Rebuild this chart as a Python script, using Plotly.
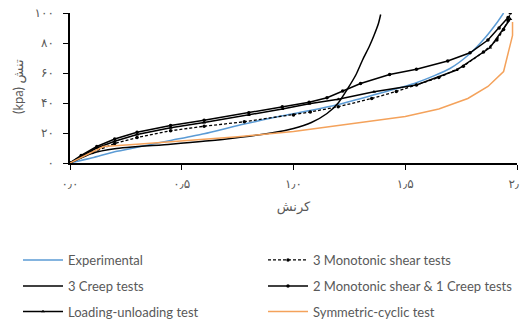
import plotly.graph_objects as go

# ---- data (strain, stress kPa) ----
exp_x = [0, 0.1, 0.2, 0.3, 0.45, 0.6, 0.78, 0.95, 1.075, 1.2, 1.35, 1.55, 1.7, 1.79, 1.86, 1.91, 1.94]
exp_y = [0, 3.5, 7.5, 10.5, 15, 19.5, 26, 31.5, 35, 39, 45, 53.5, 63, 73, 84, 93.5, 100]

mono3_x = [0, 0.1, 0.2, 0.3, 0.45, 0.6, 0.78, 1.0, 1.075, 1.2, 1.35, 1.46, 1.55, 1.65, 1.76, 1.85, 1.91, 1.94, 1.96, 1.97]
mono3_y = [0, 7, 13, 17, 21.5, 24.5, 27.5, 32, 34, 37.5, 43, 47.7, 52, 57, 64.5, 74, 82, 89, 95, 100]

creep3_x = [0, 0.1, 0.2, 0.45, 0.7, 0.9, 1.0, 1.08, 1.15, 1.2, 1.24, 1.28, 1.31, 1.34, 1.36, 1.38, 1.39]
creep3_y = [0, 6.5, 9.5, 12.5, 16, 20, 23, 27, 33, 40, 49, 59, 69, 78, 85, 93, 99]

mono2creep1_x = [0, 0.05, 0.12, 0.2, 0.3, 0.45, 0.6, 0.8, 0.95, 1.07, 1.15, 1.22, 1.3, 1.43, 1.55, 1.69, 1.79, 1.87, 1.92, 1.96]
mono2creep1_y = [0, 5, 11, 16, 20.5, 25, 28.5, 33.5, 37.5, 40.5, 43.5, 48, 53, 59, 62.5, 68, 73.5, 82, 90, 97]

loadunload_x = [0, 0.05, 0.12, 0.2, 0.3, 0.45, 0.6, 0.8, 0.95, 1.07, 1.2, 1.36, 1.55, 1.73, 1.88, 1.97]
loadunload_y = [0, 4.5, 10, 14.5, 19, 23.5, 27, 32, 36, 39.5, 42.5, 47.5, 52, 62, 77, 96]

cyclic_x = [0, 0.15, 0.3, 0.5, 0.75, 1.0, 1.25, 1.5, 1.65, 1.78, 1.87, 1.94, 1.98, 1.98]
cyclic_y = [0, 11, 12.5, 14.5, 17.5, 21, 26, 31, 36, 43, 51, 61, 85, 94]

x_ticks = [0, 0.5, 1.0, 1.5, 2.0]
x_tick_text = ["۰٫۰", "۰٫۵", "۱٫۰", "۱٫۵", "۲٫۰"]
y_ticks = [0, 20, 40, 60, 80, 100]
y_tick_text = ["۰", "۲۰", "۴۰", "۶۰", "۸۰", "۱۰۰"]
x_title = "کرنش"
y_title = "(kpa) تنش"

names = ["Experimental", "3 Monotonic shear tests", "3 Creep tests",
         "2 Monotonic shear & 1 Creep tests", "Loading-unloading test", "Symmetric-cyclic test"]

W, H = 520, 317   # page body has an 8px margin, so the figure fills the 528x325 window
ML, MR, MT, MB = 62, 11, 5, 162
PW, PH = W - ML - MR, H - MT - MB

fig = go.Figure()

fig.add_trace(go.Scatter(x=exp_x, y=exp_y, mode="lines", name=names[0],
                         line=dict(color="#5B9BD5", width=1.5, shape="spline", smoothing=0.6),
                         legend="legend"))
fig.add_trace(go.Scatter(x=mono3_x, y=mono3_y, mode="lines+markers", name=names[1],
                         line=dict(color="black", width=1.3, dash="3px,2px"),
                         marker=dict(size=3.5, color="black"), legend="legend2"))
fig.add_trace(go.Scatter(x=creep3_x, y=creep3_y, mode="lines", name=names[2],
                         line=dict(color="black", width=1.5, shape="spline", smoothing=0.6),
                         legend="legend3"))
fig.add_trace(go.Scatter(x=mono2creep1_x, y=mono2creep1_y, mode="lines+markers", name=names[3],
                         line=dict(color="black", width=1.5),
                         marker=dict(size=3.5, color="black"), legend="legend4"))
fig.add_trace(go.Scatter(x=loadunload_x, y=loadunload_y, mode="lines+markers", name=names[4],
                         line=dict(color="black", width=1.5),
                         marker=dict(size=3.5, color="black", symbol="triangle-up"), legend="legend5"))
fig.add_trace(go.Scatter(x=cyclic_x, y=cyclic_y, mode="lines", name=names[5],
                         line=dict(color="#F4A25B", width=1.5),
                         legend="legend6"))

leg_common = dict(orientation="v", xref="container", yref="container", xanchor="left",
                  yanchor="middle", itemwidth=40,
                  font=dict(family="Lato, Liberation Sans, sans-serif", size=13, color="#595959"),
                  bgcolor="rgba(0,0,0,0)")

col_x = [10, 255]
row_y = [252, 278, 303.5]
leg_pos = {}
k = 0
for r in range(3):
    for c in range(2):
        key = "legend" if k == 0 else f"legend{k + 1}"
        leg_pos[key] = dict(**leg_common, x=col_x[c] / W, y=1 - row_y[r] / H)
        k += 1

fig.update_layout(
    width=W, height=H,
    margin=dict(l=ML, r=MR, t=MT, b=MB, autoexpand=False),
    paper_bgcolor="white", plot_bgcolor="white",
    showlegend=True,
    **leg_pos,
    xaxis=dict(range=[0, 2], tickvals=x_ticks, ticktext=x_tick_text,
               showgrid=False, zeroline=False, showline=True, linecolor="black", linewidth=1.5,
               ticks="outside", ticklen=5, tickcolor="black", tickwidth=1.2,
               tickfont=dict(family="DejaVu Sans", size=12, color="#595959"),
               ticklabelstandoff=4, ticklabeloverflow="allow",
               title=dict(text=x_title, font=dict(family="DejaVu Sans", size=13, color="#595959"),
                          standoff=12)),
    yaxis=dict(range=[0, 100], tickvals=y_ticks, ticktext=y_tick_text,
               showgrid=False, zeroline=False, showline=True, linecolor="black", linewidth=1.5,
               ticks="outside", ticklen=5, tickcolor="black", tickwidth=1.2,
               tickfont=dict(family="DejaVu Sans", size=12, color="#595959"),
               ticklabelstandoff=7, ticklabeloverflow="allow"),
    annotations=[dict(text=y_title, textangle=-90, showarrow=False,
                      xref="paper", yref="paper",
                      x=(10 - ML) / PW, y=1 - (79 - MT) / PH,
                      xanchor="center", yanchor="middle",
                      font=dict(family="Lato, DejaVu Sans, sans-serif", size=13, color="#595959"))],
)

fig.write_html("out.html")
